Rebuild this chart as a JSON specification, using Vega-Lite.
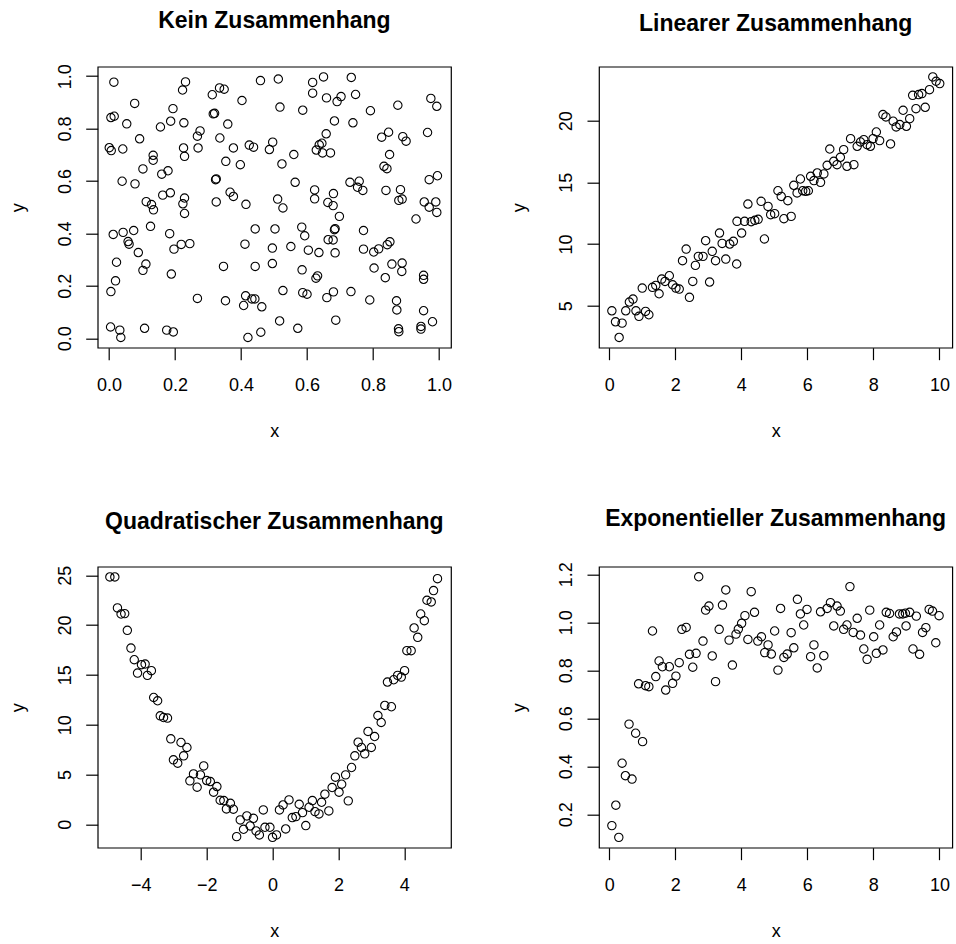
{
  "$schema": "https://vega.github.io/schema/vega-lite/v6.json",
  "background": "white",
  "padding": {"left": 8.7, "top": 8.7, "right": 0, "bottom": 6},
  "datasets": {
    "p1": [
      {"x":0.015,"y":0.977},{"x":0.232,"y":0.978},{"x":0.223,"y":0.947},{"x":0.078,"y":0.896},{"x":0.194,"y":0.876},{"x":0.006,"y":0.842},{"x":0.016,"y":0.847},{"x":0.054,"y":0.818},{"x":0.187,"y":0.828},{"x":0.227,"y":0.822},{"x":0.156,"y":0.806},{"x":0.093,"y":0.761},{"x":0.001,"y":0.727},{"x":0.007,"y":0.716},{"x":0.042,"y":0.722},{"x":0.268,"y":0.771},{"x":0.276,"y":0.791},{"x":0.270,"y":0.726},{"x":0.226,"y":0.726},{"x":0.229,"y":0.694},{"x":0.134,"y":0.698},{"x":0.134,"y":0.679},{"x":0.103,"y":0.646},{"x":0.160,"y":0.626},{"x":0.179,"y":0.639},{"x":0.040,"y":0.599},{"x":0.079,"y":0.589},{"x":0.113,"y":0.521},{"x":0.129,"y":0.510},{"x":0.135,"y":0.490},{"x":0.163,"y":0.546},{"x":0.186,"y":0.555},{"x":0.229,"y":0.535},{"x":0.224,"y":0.513},{"x":0.229,"y":0.476},{"x":0.013,"y":0.396},{"x":0.043,"y":0.404},{"x":0.075,"y":0.411},{"x":0.058,"y":0.369},{"x":0.061,"y":0.359},{"x":0.126,"y":0.427},{"x":0.184,"y":0.399},{"x":0.197,"y":0.340},{"x":0.219,"y":0.358},{"x":0.245,"y":0.361},{"x":0.089,"y":0.327},{"x":0.023,"y":0.290},{"x":0.112,"y":0.283},{"x":0.103,"y":0.259},{"x":0.020,"y":0.219},{"x":0.006,"y":0.178},{"x":0.189,"y":0.245},{"x":0.268,"y":0.152},{"x":0.005,"y":0.043},{"x":0.033,"y":0.031},{"x":0.036,"y":0.003},{"x":0.108,"y":0.038},{"x":0.175,"y":0.031},{"x":0.195,"y":0.024},
      {"x":0.313,"y":0.929},{"x":0.335,"y":0.955},{"x":0.349,"y":0.950},{"x":0.316,"y":0.856},{"x":0.320,"y":0.858},{"x":0.336,"y":0.764},{"x":0.323,"y":0.605},{"x":0.325,"y":0.608},{"x":0.354,"y":0.675},{"x":0.325,"y":0.520},{"x":0.347,"y":0.274},{"x":0.353,"y":0.143},{"x":0.360,"y":0.817},
      {"x":0.459,"y":0.983},{"x":0.513,"y":0.989},{"x":0.617,"y":0.976},{"x":0.650,"y":0.997},{"x":0.734,"y":0.995},{"x":0.403,"y":0.907},{"x":0.518,"y":0.882},{"x":0.587,"y":0.870},{"x":0.617,"y":0.935},{"x":0.659,"y":0.917},{"x":0.691,"y":0.903},{"x":0.703,"y":0.922},{"x":0.747,"y":0.930},{"x":0.792,"y":0.868},{"x":0.875,"y":0.889},{"x":0.683,"y":0.829},{"x":0.739,"y":0.822},{"x":0.658,"y":0.780},{"x":0.826,"y":0.767},{"x":0.847,"y":0.786},{"x":0.890,"y":0.769},{"x":0.900,"y":0.752},{"x":0.377,"y":0.726},{"x":0.425,"y":0.737},{"x":0.438,"y":0.729},{"x":0.486,"y":0.720},{"x":0.496,"y":0.748},{"x":0.628,"y":0.718},{"x":0.637,"y":0.738},{"x":0.645,"y":0.744},{"x":0.647,"y":0.707},{"x":0.671,"y":0.707},{"x":0.398,"y":0.662},{"x":0.524,"y":0.665},{"x":0.560,"y":0.701},{"x":0.850,"y":0.701},{"x":0.833,"y":0.656},{"x":0.842,"y":0.647},{"x":0.564,"y":0.595},{"x":0.623,"y":0.566},{"x":0.623,"y":0.532},{"x":0.680,"y":0.552},{"x":0.730,"y":0.595},{"x":0.758,"y":0.599},{"x":0.753,"y":0.576},{"x":0.769,"y":0.564},{"x":0.839,"y":0.564},{"x":0.883,"y":0.567},{"x":0.878,"y":0.526},{"x":0.888,"y":0.531},{"x":0.367,"y":0.557},{"x":0.377,"y":0.541},{"x":0.415,"y":0.511},{"x":0.511,"y":0.531},{"x":0.527,"y":0.497},{"x":0.663,"y":0.518},{"x":0.679,"y":0.506},{"x":0.698,"y":0.465},{"x":0.443,"y":0.417},{"x":0.503,"y":0.417},{"x":0.584,"y":0.424},{"x":0.771,"y":0.411},{"x":0.593,"y":0.391},{"x":0.683,"y":0.414},{"x":0.685,"y":0.418},{"x":0.664,"y":0.376},{"x":0.679,"y":0.375},{"x":0.412,"y":0.359},{"x":0.495,"y":0.344},{"x":0.551,"y":0.350},{"x":0.604,"y":0.336},{"x":0.636,"y":0.327},{"x":0.685,"y":0.326},{"x":0.771,"y":0.340},{"x":0.802,"y":0.329},{"x":0.817,"y":0.341},{"x":0.843,"y":0.357},{"x":0.851,"y":0.368},{"x":0.443,"y":0.274},{"x":0.495,"y":0.285},{"x":0.585,"y":0.261},{"x":0.803,"y":0.268},{"x":0.857,"y":0.283},{"x":0.888,"y":0.287},{"x":0.887,"y":0.255},{"x":0.627,"y":0.229},{"x":0.632,"y":0.238},{"x":0.837,"y":0.231},{"x":0.414,"y":0.162},{"x":0.408,"y":0.125},{"x":0.433,"y":0.150},{"x":0.442,"y":0.150},{"x":0.463,"y":0.120},{"x":0.527,"y":0.182},{"x":0.587,"y":0.174},{"x":0.600,"y":0.168},{"x":0.660,"y":0.155},{"x":0.680,"y":0.177},{"x":0.733,"y":0.178},{"x":0.790,"y":0.146},{"x":0.871,"y":0.143},{"x":0.872,"y":0.108},{"x":0.517,"y":0.066},{"x":0.460,"y":0.023},{"x":0.421,"y":0.003},{"x":0.572,"y":0.038},{"x":0.687,"y":0.069},{"x":0.877,"y":0.036},{"x":0.878,"y":0.025},
      {"x":0.975,"y":0.915},{"x":0.993,"y":0.885},{"x":0.965,"y":0.785},{"x":0.995,"y":0.620},{"x":0.970,"y":0.605},{"x":0.990,"y":0.520},{"x":0.955,"y":0.520},{"x":0.970,"y":0.500},{"x":0.993,"y":0.480},{"x":0.930,"y":0.455},{"x":0.953,"y":0.240},{"x":0.953,"y":0.225},{"x":0.953,"y":0.105},{"x":0.980,"y":0.063},{"x":0.945,"y":0.045},{"x":0.945,"y":0.035}
    ],
    "p2": [
      {"x":0.08,"y":4.59},{"x":0.19,"y":3.70},{"x":0.39,"y":3.59},{"x":0.30,"y":2.43},{"x":0.50,"y":4.59},{"x":0.61,"y":5.30},{"x":0.72,"y":5.54},{"x":0.81,"y":4.59},{"x":0.90,"y":4.14},{"x":1.00,"y":6.43},{"x":1.10,"y":4.54},{"x":1.20,"y":4.27},{"x":1.31,"y":6.49},{"x":1.41,"y":6.65},{"x":1.51,"y":5.97},{"x":1.59,"y":7.16},{"x":1.69,"y":6.97},{"x":1.82,"y":7.43},{"x":1.92,"y":6.70},{"x":2.02,"y":6.43},{"x":2.12,"y":6.35},{"x":2.22,"y":8.65},{"x":2.33,"y":9.59},{"x":2.43,"y":5.68},{"x":2.53,"y":6.97},{"x":2.61,"y":8.27},{"x":2.70,"y":9.0},{"x":2.84,"y":9.0},{"x":2.92,"y":10.27},{"x":3.04,"y":6.92},{"x":3.12,"y":9.41},{"x":3.22,"y":8.65},{"x":3.34,"y":10.89},{"x":3.42,"y":10.05},{"x":3.65,"y":10.0},{"x":3.76,"y":10.22},{"x":3.53,"y":8.78},{"x":3.86,"y":8.38},
      {"x":3.87,"y":11.84},{"x":4.01,"y":10.89},{"x":4.10,"y":11.84},{"x":4.20,"y":13.24},{"x":4.30,"y":11.81},{"x":4.41,"y":11.92},{"x":4.51,"y":12.0},{"x":4.60,"y":13.46},{"x":4.70,"y":10.41},{"x":4.81,"y":13.05},{"x":4.89,"y":12.38},{"x":5.01,"y":12.46},{"x":5.11,"y":14.32},{"x":5.21,"y":13.86},{"x":5.29,"y":12.05},{"x":5.41,"y":13.51},{"x":5.51,"y":12.24},{"x":5.59,"y":14.76},{"x":5.69,"y":14.14},{"x":5.79,"y":15.27},{"x":5.86,"y":14.32},{"x":5.95,"y":14.27},{"x":6.03,"y":14.32},{"x":6.10,"y":15.49},{"x":6.20,"y":15.14},{"x":6.30,"y":15.76},{"x":6.40,"y":15.0},{"x":6.50,"y":15.68},{"x":6.60,"y":16.38},{"x":6.68,"y":17.70},{"x":6.80,"y":16.70},{"x":6.90,"y":16.43},{"x":7.00,"y":17.03},{"x":7.10,"y":17.65},{"x":7.20,"y":16.30},{"x":7.31,"y":18.54},{"x":7.41,"y":16.43},{"x":7.51,"y":17.92},{"x":7.61,"y":18.27},{"x":7.71,"y":18.46},{"x":7.81,"y":18.05},{"x":7.91,"y":17.92},{"x":7.99,"y":18.54},{"x":8.09,"y":19.08},{"x":8.19,"y":18.38},{"x":8.29,"y":20.49},{"x":8.38,"y":20.30},{"x":8.52,"y":18.11},{"x":8.60,"y":19.95},{"x":8.69,"y":19.49},{"x":8.80,"y":19.68},{"x":8.90,"y":20.84},{"x":9.00,"y":19.54},{"x":9.10,"y":20.16},{"x":9.19,"y":22.05},{"x":9.29,"y":20.97},{"x":9.37,"y":22.11},{"x":9.47,"y":22.19},{"x":9.57,"y":21.08},{"x":9.70,"y":22.51},{"x":9.80,"y":23.54},{"x":9.90,"y":23.19},{"x":10.01,"y":23.0}
    ],
    "p3": [
      {"x":-4.94,"y":24.83},{"x":-4.79,"y":24.83},{"x":-4.71,"y":21.72},{"x":-4.60,"y":21.11},{"x":-4.49,"y":21.15},{"x":-4.41,"y":19.47},{"x":-4.30,"y":17.69},{"x":-4.20,"y":16.52},{"x":-4.10,"y":15.18},{"x":-3.98,"y":16.02},{"x":-3.87,"y":16.09},{"x":-3.80,"y":14.95},{"x":-3.68,"y":15.42},{"x":-3.61,"y":12.73},{"x":-3.49,"y":12.40},{"x":-3.41,"y":10.89},{"x":-3.31,"y":10.72},{"x":-3.19,"y":10.66},{"x":-3.09,"y":8.58},{"x":-3.01,"y":6.47},{"x":-2.88,"y":6.13},{"x":-2.78,"y":8.21},{"x":-2.70,"y":6.87},{"x":-2.60,"y":7.71},{"x":-2.51,"y":4.36},{"x":-2.40,"y":5.06},{"x":-2.29,"y":3.72},{"x":-2.19,"y":4.96},{"x":-2.09,"y":5.86},{"x":-2.00,"y":4.39},{"x":-1.89,"y":4.29},{"x":-1.79,"y":3.22},{"x":-1.69,"y":3.79},{"x":-1.59,"y":2.41},{"x":-1.48,"y":2.38},{"x":-1.40,"y":1.54},{"x":-1.28,"y":2.11},{"x":-1.19,"y":1.51},{"x":-1.09,"y":-1.24},{"x":-0.98,"y":0.44},{"x":-0.88,"y":-0.50},{"x":-0.78,"y":0.84},{"x":-0.68,"y":-0.17},{"x":-0.58,"y":0.60},
      {"x":-0.50,"y":-0.67},{"x":-0.40,"y":-1.07},{"x":-0.28,"y":1.44},{"x":-0.23,"y":-0.30},{"x":-0.08,"y":-0.30},{"x":0.00,"y":-1.31},{"x":0.12,"y":-1.07},{"x":0.21,"y":1.44},{"x":0.32,"y":1.94},{"x":0.40,"y":-0.47},{"x":0.50,"y":2.45},{"x":0.60,"y":0.67},{"x":0.71,"y":0.77},{"x":0.81,"y":2.01},{"x":0.91,"y":1.17},{"x":1.01,"y":-0.13},{"x":1.11,"y":1.71},{"x":1.21,"y":2.38},{"x":1.29,"y":1.27},{"x":1.41,"y":1.04},{"x":1.49,"y":2.21},{"x":1.59,"y":3.02},{"x":1.71,"y":1.34},{"x":1.81,"y":3.69},{"x":1.91,"y":4.73},{"x":2.02,"y":3.22},{"x":2.10,"y":4.02},{"x":2.22,"y":4.96},{"x":2.30,"y":2.35},{"x":2.40,"y":5.70},{"x":2.50,"y":6.87},{"x":2.60,"y":8.24},{"x":2.70,"y":7.71},{"x":2.80,"y":7.07},{"x":2.90,"y":9.32},{"x":3.00,"y":7.71},{"x":3.10,"y":8.81},{"x":3.20,"y":10.92},{"x":3.30,"y":10.22},{"x":3.41,"y":11.93},{"x":3.61,"y":11.80},{"x":3.49,"y":14.28},{"x":3.68,"y":14.51},{"x":3.80,"y":14.95},{"x":3.91,"y":14.78},{"x":4.01,"y":15.42},{"x":4.08,"y":17.43},{"x":4.21,"y":17.43},{"x":4.30,"y":19.71},{"x":4.41,"y":18.77},{"x":4.50,"y":21.11},{"x":4.61,"y":20.44},{"x":4.69,"y":22.49},{"x":4.82,"y":22.32},{"x":4.89,"y":23.46},{"x":5.01,"y":24.66}
    ],
    "p4": [
      {"x":0.08,"y":0.153},{"x":0.20,"y":0.238},{"x":0.29,"y":0.104},{"x":0.39,"y":0.413},{"x":0.49,"y":0.361},{"x":0.69,"y":0.347},{"x":0.60,"y":0.576},{"x":0.80,"y":0.538},{"x":1.01,"y":0.503},{"x":0.89,"y":0.744},{"x":1.10,"y":0.736},{"x":1.20,"y":0.732},{"x":1.31,"y":0.964},{"x":1.41,"y":0.774},{"x":1.51,"y":0.839},{"x":1.61,"y":0.815},{"x":1.71,"y":0.718},{"x":1.82,"y":0.815},{"x":1.92,"y":0.746},{"x":2.02,"y":0.776},{"x":2.12,"y":0.832},{"x":2.20,"y":0.971},{"x":2.33,"y":0.979},{"x":2.43,"y":0.867},{"x":2.53,"y":0.813},{"x":2.63,"y":0.871},{"x":2.71,"y":1.190},{"x":2.84,"y":0.922},{"x":2.92,"y":1.051},{"x":3.02,"y":1.068},{"x":3.12,"y":0.860},{"x":3.22,"y":0.753},{"x":3.33,"y":0.971},{"x":3.43,"y":1.072},{"x":3.53,"y":1.135},{"x":3.63,"y":0.926},{"x":3.73,"y":0.822},{"x":3.84,"y":0.951},
      {"x":3.91,"y":0.972},{"x":4.01,"y":0.996},{"x":4.11,"y":1.028},{"x":4.30,"y":1.128},{"x":4.40,"y":1.042},{"x":4.20,"y":0.929},{"x":4.50,"y":0.922},{"x":4.61,"y":0.940},{"x":4.71,"y":0.874},{"x":4.81,"y":0.906},{"x":4.91,"y":0.868},{"x":5.01,"y":0.964},{"x":5.11,"y":0.801},{"x":5.29,"y":0.854},{"x":5.39,"y":0.868},{"x":5.19,"y":1.058},{"x":5.51,"y":0.957},{"x":5.59,"y":0.894},{"x":5.70,"y":1.096},{"x":5.79,"y":1.035},{"x":5.89,"y":0.989},{"x":5.99,"y":1.054},{"x":6.10,"y":0.857},{"x":6.20,"y":0.906},{"x":6.30,"y":0.810},{"x":6.40,"y":1.044},{"x":6.50,"y":0.861},{"x":6.60,"y":1.058},{"x":6.70,"y":1.082},{"x":6.80,"y":0.985},{"x":6.90,"y":1.068},{"x":7.00,"y":1.047},{"x":7.10,"y":0.971},{"x":7.20,"y":0.989},{"x":7.29,"y":1.149},{"x":7.39,"y":0.958},{"x":7.51,"y":1.017},{"x":7.61,"y":0.947},{"x":7.71,"y":0.889},{"x":7.81,"y":0.846},{"x":7.89,"y":1.051},{"x":8.01,"y":0.940},{"x":8.09,"y":0.871},{"x":8.19,"y":0.989},{"x":8.29,"y":0.885},{"x":8.39,"y":1.042},{"x":8.49,"y":1.037},{"x":8.60,"y":0.940},{"x":8.70,"y":0.960},{"x":8.79,"y":1.035},{"x":8.89,"y":1.035},{"x":8.97,"y":1.038},{"x":8.99,"y":0.985},{"x":9.10,"y":1.042},{"x":9.20,"y":0.889},{"x":9.30,"y":1.026},{"x":9.40,"y":0.867},{"x":9.49,"y":0.958},{"x":9.59,"y":0.978},{"x":9.69,"y":1.054},{"x":9.79,"y":1.047},{"x":9.89,"y":0.915},{"x":9.99,"y":1.028}
    ]
  },
  "columns": 2,
  "spacing": {"row": 219, "column": 147.3},
  "bounds": "flush",
  "concat": [
    {
      "title": "Kein Zusammenhang",
      "width": 353.3, "height": 281,
      "data": {"name": "p1"},
      "mark": {"type": "point", "filled": false, "color": "black", "size": 70, "strokeWidth": 1.1, "opacity": 1},
      "encoding": {
        "x": {"field": "x", "type": "quantitative", "scale": {"domain": [-0.034, 1.036], "nice": false, "zero": false}, "axis": {"values": [0, 0.2, 0.4, 0.6, 0.8, 1], "format": ".1f", "title": "x"}},
        "y": {"field": "y", "type": "quantitative", "scale": {"domain": [-0.036, 1.036], "nice": false, "zero": false}, "axis": {"values": [0, 0.2, 0.4, 0.6, 0.8, 1], "format": ".1f", "title": "y"}}
      }
    },
    {
      "title": "Linearer Zusammenhang",
      "width": 353.3, "height": 281,
      "data": {"name": "p2"},
      "mark": {"type": "point", "filled": false, "color": "black", "size": 70, "strokeWidth": 1.1, "opacity": 1},
      "encoding": {
        "x": {"field": "x", "type": "quantitative", "scale": {"domain": [-0.31, 10.39], "nice": false, "zero": false}, "axis": {"values": [0, 2, 4, 6, 8, 10], "format": "d", "title": "x"}},
        "y": {"field": "y", "type": "quantitative", "scale": {"domain": [1.6, 24.37], "nice": false, "zero": false}, "axis": {"values": [5, 10, 15, 20], "format": "d", "title": "y"}}
      }
    },
    {
      "title": "Quadratischer Zusammenhang",
      "width": 353.3, "height": 281,
      "data": {"name": "p3"},
      "mark": {"type": "point", "filled": false, "color": "black", "size": 70, "strokeWidth": 1.1, "opacity": 1},
      "encoding": {
        "x": {"field": "x", "type": "quantitative", "scale": {"domain": [-5.31, 5.42], "nice": false, "zero": false}, "axis": {"values": [-4, -2, 0, 2, 4], "format": "d", "title": "x"}},
        "y": {"field": "y", "type": "quantitative", "scale": {"domain": [-2.35, 25.86], "nice": false, "zero": false}, "axis": {"values": [0, 5, 10, 15, 20, 25], "format": "d", "title": "y"}}
      }
    },
    {
      "title": "Exponentieller Zusammenhang",
      "width": 353.3, "height": 281,
      "data": {"name": "p4"},
      "mark": {"type": "point", "filled": false, "color": "black", "size": 70, "strokeWidth": 1.1, "opacity": 1},
      "encoding": {
        "x": {"field": "x", "type": "quantitative", "scale": {"domain": [-0.31, 10.39], "nice": false, "zero": false}, "axis": {"values": [0, 2, 4, 6, 8, 10], "format": "d", "title": "x"}},
        "y": {"field": "y", "type": "quantitative", "scale": {"domain": [0.061, 1.232], "nice": false, "zero": false}, "axis": {"values": [0.2, 0.4, 0.6, 0.8, 1.0, 1.2], "format": ".1f", "title": "y"}}
      }
    }
  ],
  "config": {
    "font": "Liberation Sans",
    "view": {"stroke": "black", "strokeWidth": 1.2},
    "axis": {
      "domain": false, "grid": false, "ticks": true,
      "tickColor": "black", "tickSize": 12, "tickWidth": 1.2,
      "labelFont": "Liberation Sans", "labelFontSize": 18, "labelColor": "black",
      "labelFlush": false, "labelOverlap": false,
      "titleFont": "Liberation Sans", "titleFontSize": 18, "titleFontWeight": "normal", "titleColor": "black"
    },
    "axisX": {"labelAngle": 0, "labelBaseline": "top", "labelPadding": 16.5, "titleY": 89, "titleBaseline": "alphabetic"},
    "axisY": {"labelAngle": -90, "labelAlign": "center", "labelBaseline": "alphabetic", "labelPadding": 15, "titleX": -74, "titleAngle": -90, "titleBaseline": "alphabetic", "titleAlign": "center"},
    "title": {"font": "Liberation Sans", "fontSize": 23, "fontWeight": "bold", "color": "black", "anchor": "middle", "frame": "group", "baseline": "alphabetic", "offset": 31}
  }
}
